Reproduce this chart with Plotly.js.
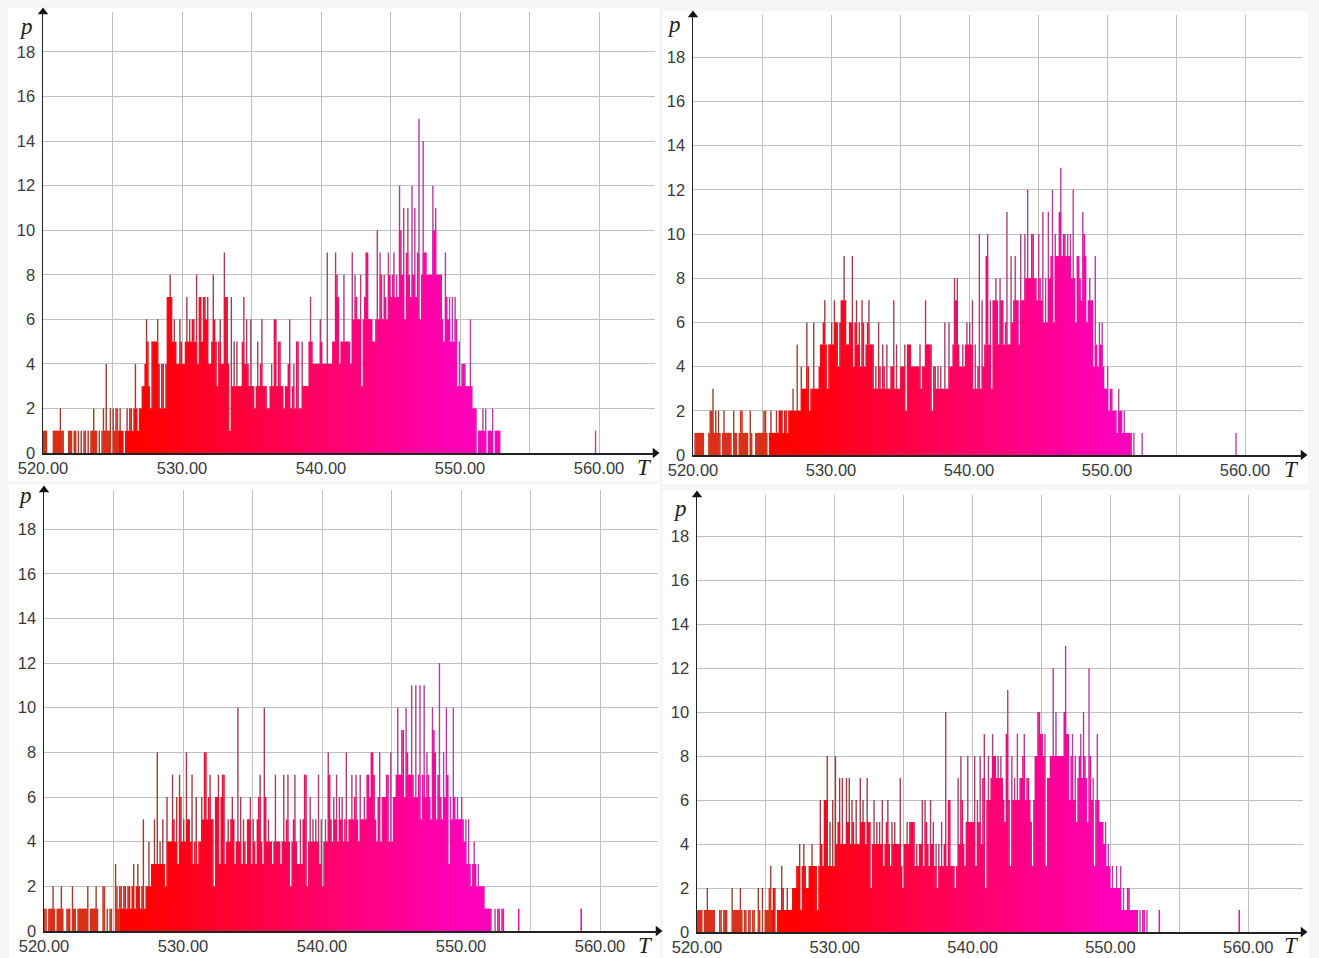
<!DOCTYPE html>
<html>
<head>
<meta charset="utf-8">
<script src="https://cdn.plot.ly/plotly-3.0.1.min.js"></script>
<style>
html,body{margin:0;padding:0;background:#fff}#c{width:1319px;height:958px}
.trace.bars path{shape-rendering:geometricPrecision !important}
</style>
</head>
<body>
<div id="c"></div>
<script>
// counts per 0.1-wide bin starting at T = 520.0
const p1 = [
1,1,1,0,0,0,0,1,1,1, 1,1,2,1,1,0,0,0,1,1, 1,0,1,1,0,1,0,1,0,1, 1,0,1,0,1,1,2,1,1,0,
1,0,1,2,1,4,1,1,2,0, 2,1,2,2,1,2,1,1,0,1, 2,1,2,2,1,2,4,2,1,2, 2,3,3,4,6,5,3,2,5,5,
5,5,6,4,2,4,4,2,4,7, 7,8,7,5,6,5,4,4,6,5, 4,4,5,7,5,6,5,6,6,5, 8,4,7,7,5,7,7,6,7,4,
4,5,8,6,5,3,5,6,4,4, 9,7,7,4,1,7,3,5,3,5, 3,3,3,5,7,4,6,4,3,6, 3,3,2,3,5,3,4,6,3,3,
3,2,2,3,4,3,6,6,3,5, 5,3,3,2,3,3,4,6,2,3, 4,2,5,5,2,2,5,3,3,3, 3,5,7,5,4,4,4,4,4,6,
5,4,4,4,9,4,4,4,5,5, 9,8,7,4,5,5,8,5,5,5, 5,4,9,6,8,7,6,6,8,3, 6,7,9,9,6,6,6,5,5,6,
10,6,9,8,6,8,7,6,9,8, 7,8,9,7,8,7,12,10,8,11, 6,9,11,8,7,12,8,11,7,9, 15,6,8,14,9,9,8,8,8,8,
12,10,11,8,8,8,8,6,5,9, 7,6,7,5,7,5,7,6,3,5, 3,4,4,4,3,3,3,6,3,2, 2,2,0,1,1,1,2,1,2,0,
1,1,1,2,0,1,1,1,1,0];
const p2 = [
0,1,1,1,1,1,1,1,0,0, 0,1,2,2,3,1,2,1,2,1, 0,1,2,1,1,1,1,1,0,2, 1,1,0,1,2,2,1,1,1,1,
0,2,1,0,0,1,1,1,1,1, 1,2,2,1,0,1,2,1,1,1, 2,1,2,2,2,1,2,2,1,2, 2,2,3,2,2,5,2,2,4,3,
3,3,6,4,2,3,3,6,3,3, 3,4,5,5,6,7,5,3,5,5, 6,5,7,6,6,4,6,7,7,9, 7,5,5,6,6,9,4,6,7,5,
6,4,7,6,4,5,6,7,5,5, 5,3,4,3,6,4,3,5,4,3, 5,3,3,4,4,7,3,5,3,3, 4,4,4,5,2,5,5,5,4,4,
4,4,4,4,5,3,4,4,7,5, 5,5,5,2,4,4,3,4,3,4, 3,3,6,3,3,6,4,4,5,8, 7,8,5,4,4,5,4,5,6,5,
6,5,7,3,5,3,4,10,3,7, 4,5,9,10,5,7,3,7,7,8, 7,5,8,7,7,5,6,11,5,5, 9,6,7,9,7,7,5,10,7,7,
10,8,12,8,8,10,10,8,8,7, 10,8,7,11,6,8,6,11,8,9, 12,6,10,9,9,11,13,9,10,10, 9,10,9,10,8,12,8,6,9,9,
8,7,11,10,9,6,7,8,7,7, 4,9,5,4,6,5,6,4,3,3, 4,2,3,3,2,2,2,1,3,2, 2,1,2,1,1,1,1,1,0,1,
0,0,0,0,0,1,0,0,0,0];
const p3 = [
1,1,0,1,1,1,2,1,0,1, 1,1,2,1,0,0,1,1,1,0, 2,1,1,0,1,1,1,1,1,1, 1,2,0,1,1,1,1,2,1,0,
0,0,2,2,0,1,0,1,1,0, 0,3,2,1,2,2,1,2,2,1, 2,2,1,2,3,1,2,3,2,1, 2,5,1,2,2,4,2,3,3,5,
3,8,3,4,3,5,3,2,6,4, 4,4,7,5,4,6,3,7,6,4, 5,4,8,5,5,4,7,3,4,6, 3,4,4,6,5,8,8,5,6,7,
5,5,2,6,6,7,3,6,7,7, 3,4,5,4,5,6,5,3,4,10, 4,6,3,5,4,3,5,5,6,3, 5,4,3,5,6,7,4,3,10,6,
4,5,4,4,3,4,7,4,4,4, 3,4,7,4,5,7,4,2,4,5, 7,4,3,3,5,3,5,7,7,2, 4,6,4,5,4,5,4,7,3,5,
2,4,5,4,8,7,5,4,6,5, 7,4,6,5,6,4,5,8,4,5, 5,7,5,6,7,5,4,7,5,5, 6,5,7,7,6,8,8,7,5,4,
6,8,4,6,6,6,7,7,4,8, 4,6,6,7,10,7,7,9,9,6, 10,8,7,7,11,7,6,11,6,7, 11,5,7,11,6,8,7,6,5,10,
9,8,5,7,12,6,5,8,6,10, 7,3,6,5,10,6,5,6,5,5, 6,5,4,5,3,5,3,2,3,4, 3,2,3,2,2,2,2,1,1,1,
1,1,0,0,1,0,1,1,0,1, 1,0];
const p4 = [
1,1,1,1,0,1,1,2,1,1, 1,1,1,0,0,0,1,1,0,1, 1,1,0,0,0,2,1,1,1,1, 1,2,1,0,1,1,0,1,1,0,
1,1,0,0,2,1,0,2,0,1, 1,1,2,3,1,2,2,0,1,1, 1,3,2,1,1,2,1,1,1,2, 2,2,3,3,4,1,3,4,3,2,
2,3,3,4,3,3,3,1,3,6, 4,3,6,6,8,3,5,3,6,3, 8,4,5,7,4,7,4,4,7,5, 7,4,6,5,4,6,4,4,7,5,
6,5,4,7,5,5,2,4,6,4, 5,4,5,4,6,3,4,5,6,4, 3,5,4,5,4,4,4,7,3,2, 4,4,5,4,5,5,5,5,3,4,
3,4,4,6,3,6,5,4,3,6, 4,5,3,4,2,4,3,5,3,4, 10,3,6,6,3,3,3,2,3,7, 4,8,6,4,3,5,8,5,5,5,
5,8,3,6,5,8,4,7,9,2, 6,8,6,7,9,8,8,7,8,7, 8,7,6,5,9,11,6,3,8,6, 7,6,9,6,7,7,8,9,6,7,
7,6,5,3,6,8,8,10,10,9, 9,8,9,3,7,7,8,8,12,8, 10,8,8,8,8,8,10,13,9,9, 6,8,9,6,8,5,7,8,9,7,
10,8,7,5,12,8,6,7,3,6, 9,6,5,5,5,4,5,3,4,3, 2,3,2,2,3,2,2,3,1,2, 1,1,2,2,1,1,1,1,1,1,
0,1,0,1,1,0,1,0,0,0, 0,0,0,0,0,1];
// isolated far bins: temperature, count
const extraT1 = [559.7], extraP1 = [1];
const extraT2 = [559.3], extraP2 = [1];
const extraT3 = [554.1, 558.6], extraP3 = [1, 1];
const extraT4 = [559.3], extraP4 = [1];
const xTicks = [520, 530, 540, 550, 560];

const W = 1319, H = 958;
// pixel frames of the four photographed panels
const frames = [
 {L:43, R:655, B:453, T:12, sx:13.9, sy:22.28, v:p1, et:extraT1, ep:extraP1, sheet:[8,8,659,481], pl:[26,27], tl:[644,467]},
 {L:693,R:1303,B:455, T:15, sx:13.8, sy:22.1,  v:p2, et:extraT2, ep:extraP2, sheet:[663,11,1308,484], pl:[674,24], tl:[1291,469]},
 {L:44, R:658, B:931, T:490,sx:13.9, sy:22.33, v:p3, et:extraT3, ep:extraP3, sheet:[9,484,660,958], pl:[25,496], tl:[645,945]},
 {L:697,R:1303,B:932, T:495,sx:13.78,sy:22.0,  v:p4, et:extraT4, ep:extraP4, sheet:[663,490,1309,958], pl:[680,508], tl:[1291,945]}
];
const clamp = v => Math.max(0, Math.min(1, v));
const blue = t => clamp((t - 527) / 23) * 185;
const rgb = (r, g, b) => `rgb(${Math.round(r)},${Math.round(g)},${Math.round(b)})`;
const bright = t => t < 525.5 ? rgb(218,48,26) : rgb(255, 0, blue(t));
const medium = t => t < 525.5 ? rgb(200,55,35) : rgb(222, 22, 18 + blue(t) * 0.85);
const dull = t => rgb(150 + blue(t) * 0.15, 62, 50 + blue(t) * 0.62);

const data = [], layout = {
  width: W, height: H, margin: {l:0, r:0, t:0, b:0}, autosize: false,
  paper_bgcolor: '#f6f6f6', plot_bgcolor: 'rgba(0,0,0,0)',
  barmode: 'stack', bargap: 0, showlegend: false,
  font: {family: '"Liberation Sans", Arial, sans-serif', size: 16.5, color: '#3a3a3a'},
  shapes: [], annotations: []
};
frames.forEach((f, i) => {
  const n = i + 1, xa = 'x' + (n === 1 ? '' : n), ya = 'y' + (n === 1 ? '' : n);
  const xmax = 520 + (f.R - f.L) / f.sx, ymax = (f.B - f.T) / f.sy;
  const ts = f.v.map((_, k) => 520 + k * 0.1 + 0.05).concat(f.et.map(t => t + 0.05));
  const vs = f.v.concat(f.ep);
  // massed body is saturated, two-bin ledges less so, tips of one-bin spikes dull
  const lo = vs.map((v, k) => Math.min(v, vs[k - 1] || 0, vs[k + 1] || 0));
  const hi = vs.map((v, k) => Math.min(v, Math.max(vs[k - 1] || 0, vs[k + 1] || 0)));
  const mid = hi.map((h, k) => h - lo[k]);
  const tip = vs.map((v, k) => v - hi[k]);
  // lo never exceeds either neighbour, so it may overlap them to close antialiasing seams
  [[lo, bright, 0.16], [mid, medium, 0.112], [tip, dull, 0.1]].forEach(([ys, col, w]) => {
    data.push({type:'bar', x:ts, y:ys, width:w, xaxis:xa, yaxis:ya, hoverinfo:'skip',
               marker:{color:ts.map(col), line:{width:0}}});
  });
  // arrow heads at the axis ends
  data.push({type:'scatter', mode:'markers', x:[xmax], y:[0], xaxis:xa, yaxis:ya, cliponaxis:false, hoverinfo:'skip',
             marker:{symbol:'triangle-right', size:9, color:'#111'}});
  data.push({type:'scatter', mode:'markers', x:[520], y:[ymax], xaxis:xa, yaxis:ya, cliponaxis:false, hoverinfo:'skip',
             marker:{symbol:'triangle-up', size:9, color:'#111'}});
  const axisKey = n === 1 ? '' : n;
  layout['xaxis' + axisKey] = {
    domain: [f.L / W, f.R / W], range: [520, xmax], anchor: ya, fixedrange: true,
    tickmode: 'array', tickvals: xTicks, ticktext: xTicks.map(t => t.toFixed(2)),
    ticks: '',
    showgrid: true, gridcolor: '#c0c0c0', gridwidth: 1, zeroline: false,
    minor: {tickmode:'array', tickvals:[525,535,545,555], showgrid:true, gridcolor:'#c0c0c0', gridwidth:1, ticks:''},
    showline: true, linecolor: '#222', linewidth: 1.5, layer: 'above traces'
  };
  layout['yaxis' + axisKey] = {
    domain: [1 - f.B / H, 1 - f.T / H], range: [0, ymax], anchor: xa, fixedrange: true,
    tick0: 0, dtick: 2, ticks: 'outside', ticklen: 3, tickcolor: 'rgba(0,0,0,0)',
    showgrid: true, gridcolor: '#c0c0c0', gridwidth: 1, zeroline: false,
    showline: true, linecolor: '#222', linewidth: 1.5, layer: 'above traces'
  };
  layout.shapes.push({type:'rect', xref:'paper', yref:'paper', layer:'below', line:{width:0}, fillcolor:'#ffffff',
    x0:f.sheet[0]/W, x1:f.sheet[2]/W, y0:1-f.sheet[3]/H, y1:1-f.sheet[1]/H});
  [['p', f.pl], ['T', f.tl]].forEach(([txt, pos]) => layout.annotations.push({
    text: txt, xref:'paper', yref:'paper', x:pos[0]/W, y:1-pos[1]/H, showarrow:false,
    xanchor:'center', yanchor:'middle',
    font:{family:'"Liberation Serif", serif', size:23, color:'#222', style:'italic'}
  }));
});
Plotly.newPlot('c', data, layout, {staticPlot:true, displayModeBar:false});
</script>
</body>
</html>
